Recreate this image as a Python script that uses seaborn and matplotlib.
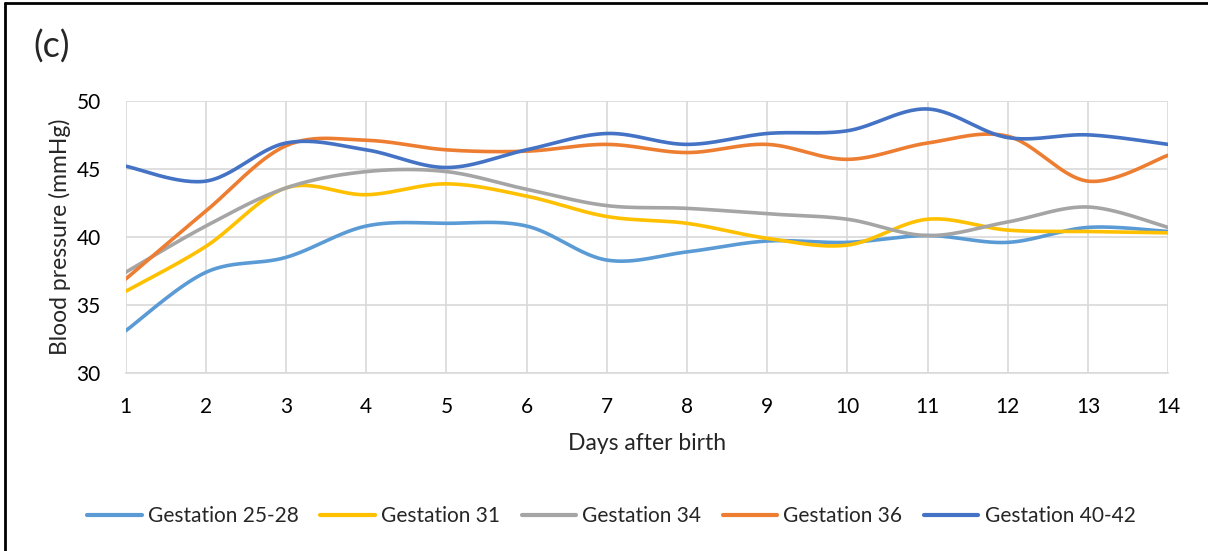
import numpy as np
import pandas as pd
import matplotlib
matplotlib.use("Agg")
import matplotlib.pyplot as plt
import seaborn as sns
from matplotlib.lines import Line2D

# ----------------------------
# Data
# ----------------------------
days = list(range(1, 15))
g25_28 = [33.1, 37.4, 38.5, 40.8, 41.0, 40.8, 38.3, 38.9, 39.7, 39.6, 40.1, 39.6, 40.7, 40.4]
g31 = [36.0, 39.3, 43.6, 43.1, 43.9, 43.0, 41.5, 41.0, 39.9, 39.4, 41.3, 40.5, 40.4, 40.3]
g34 = [37.4, 40.8, 43.6, 44.8, 44.8, 43.5, 42.3, 42.1, 41.7, 41.3, 40.1, 41.1, 42.2, 40.7]
g36 = [36.9, 41.9, 46.7, 47.1, 46.4, 46.3, 46.8, 46.2, 46.8, 45.7, 46.9, 47.4, 44.1, 46.0]
g40_42 = [45.2, 44.1, 46.9, 46.4, 45.1, 46.4, 47.6, 46.8, 47.6, 47.8, 49.4, 47.3, 47.5, 46.8]

series_names = ["Gestation 25-28", "Gestation 31", "Gestation 34", "Gestation 36", "Gestation 40-42"]
series_vals = [g25_28, g31, g34, g36, g40_42]
colors = ["#5B9BD5", "#FFC000", "#A5A5A5", "#ED7D31", "#4472C4"]


def smooth(x, y, n=30):
    # Excel style smoothed line: cubic Bezier with Catmull-Rom control points
    x = np.asarray(x, float)
    y = np.asarray(y, float)
    px = np.concatenate([[x[0]], x, [x[-1]]])
    py = np.concatenate([[y[0]], y, [y[-1]]])
    xs, ys = [], []
    t = np.linspace(0, 1, n)
    for i in range(1, len(px) - 2):
        p0 = np.array([px[i], py[i]])
        p3 = np.array([px[i + 1], py[i + 1]])
        c1 = p0 + (p3 - np.array([px[i - 1], py[i - 1]])) / 6
        c2 = p3 - (np.array([px[i + 2], py[i + 2]]) - p0) / 6
        pts = ((1 - t) ** 3)[:, None] * p0 + (3 * (1 - t) ** 2 * t)[:, None] * c1 \
            + (3 * (1 - t) * t ** 2)[:, None] * c2 + (t ** 3)[:, None] * p3
        xs.extend(pts[:, 0])
        ys.extend(pts[:, 1])
    return xs, ys


frames = []
for name, vals in zip(series_names, series_vals):
    sx, sy = smooth(days, vals)
    frames.append(pd.DataFrame({"day": sx, "bp": sy, "series": name}))
df = pd.concat(frames, ignore_index=True)

sns.set_theme(style="white")
plt.rcParams["font.family"] = ["Lato", "DejaVu Sans"]

fig = plt.figure(figsize=(12.08, 5.51), dpi=100)
ax = fig.add_axes([0.104, 0.323, 0.863, 0.494])

sns.lineplot(data=df, x="day", y="bp", hue="series", hue_order=series_names,
             palette=colors, sort=False, estimator=None, linewidth=2.6, ax=ax)

ax.set_xlim(1, 14)
ax.set_ylim(30, 50)
ax.set_xticks(days)
ax.set_yticks([30, 35, 40, 45, 50])
ax.tick_params(axis="both", labelsize=15, length=0, colors="#000000")
ax.tick_params(axis="x", pad=17)
ax.tick_params(axis="y", pad=18)
ax.grid(True, color="#D9D9D9", linewidth=1.2)
ax.set_axisbelow(True)
for s in ["top", "right", "left"]:
    ax.spines[s].set_visible(False)
ax.spines["bottom"].set_color("#D9D9D9")
ax.spines["bottom"].set_linewidth(1.2)

ax.set_xlabel("Days after birth", fontsize=16.5, labelpad=12)
ax.set_ylabel("Blood pressure (mmHg)", fontsize=16.5, labelpad=4)

ax.legend(loc="center", bbox_to_anchor=(0.466, -0.525), ncol=5, frameon=False,
          fontsize=15, handlelength=2.6, columnspacing=1.05, handletextpad=0.3)
for line in ax.get_legend().get_lines():
    line.set_linewidth(3)

fig.text(0.028, 0.895, "(c)", fontsize=26)

# outer border: only top and left edges visible
fig.add_artist(Line2D([0.004, 0.004], [0, 0.995], transform=fig.transFigure,
                      color="black", linewidth=2))
fig.add_artist(Line2D([0.004, 1.0], [0.995, 0.995], transform=fig.transFigure,
                      color="black", linewidth=2))

fig.savefig("out.png", dpi=100)
